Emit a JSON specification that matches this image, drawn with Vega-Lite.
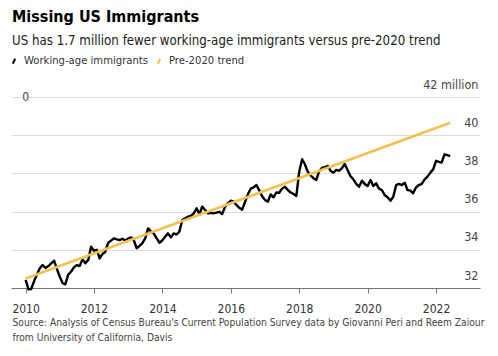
{
  "$schema": "https://vega.github.io/schema/vega-lite/v6.json",
  "width": 469,
  "height": 191,
  "autosize": {"type": "none"},
  "padding": {"left": 11, "top": 97, "right": 18, "bottom": 68},
  "background": "white",
  "config": {"view": {"stroke": null}, "font": "DejaVu Sans Condensed, Roboto"},
  "title": {
    "text": "Missing US Immigrants",
    "subtitle": "US has 1.7 million fewer working-age immigrants versus pre-2020 trend",
    "anchor": "start",
    "frame": "group",
    "font": "DejaVu Sans Condensed, Roboto",
    "fontSize": 16,
    "fontWeight": "bold",
    "color": "#000000",
    "subtitleFont": "DejaVu Sans Condensed, Roboto",
    "subtitleFontSize": 13.2,
    "subtitleColor": "#222222",
    "subtitlePadding": 10,
    "offset": 8,
    "dx": 1
  },
  "datasets": {
    "marker": [{"date": "2010-01", "value": 42}],
    "trend": [
      {"date": "2010-01", "value": 32.5, "series": "Pre-2020 trend"},
      {"date": "2022-06", "value": 40.65, "series": "Pre-2020 trend"}
    ],
    "immig": [
      {"date": "2010-01", "value": 32.42, "series": "Working-age immigrants"},
      {"date": "2010-02", "value": 31.93, "series": "Working-age immigrants"},
      {"date": "2010-03", "value": 31.95, "series": "Working-age immigrants"},
      {"date": "2010-04", "value": 32.35, "series": "Working-age immigrants"},
      {"date": "2010-05", "value": 32.7, "series": "Working-age immigrants"},
      {"date": "2010-06", "value": 33.03, "series": "Working-age immigrants"},
      {"date": "2010-07", "value": 33.2, "series": "Working-age immigrants"},
      {"date": "2010-08", "value": 33.05, "series": "Working-age immigrants"},
      {"date": "2010-09", "value": 33.15, "series": "Working-age immigrants"},
      {"date": "2010-10", "value": 33.29, "series": "Working-age immigrants"},
      {"date": "2010-11", "value": 33.43, "series": "Working-age immigrants"},
      {"date": "2010-12", "value": 33.0, "series": "Working-age immigrants"},
      {"date": "2011-01", "value": 32.59, "series": "Working-age immigrants"},
      {"date": "2011-02", "value": 32.25, "series": "Working-age immigrants"},
      {"date": "2011-03", "value": 32.19, "series": "Working-age immigrants"},
      {"date": "2011-04", "value": 32.7, "series": "Working-age immigrants"},
      {"date": "2011-05", "value": 32.85, "series": "Working-age immigrants"},
      {"date": "2011-06", "value": 33.08, "series": "Working-age immigrants"},
      {"date": "2011-07", "value": 33.2, "series": "Working-age immigrants"},
      {"date": "2011-08", "value": 33.15, "series": "Working-age immigrants"},
      {"date": "2011-09", "value": 33.5, "series": "Working-age immigrants"},
      {"date": "2011-10", "value": 33.3, "series": "Working-age immigrants"},
      {"date": "2011-11", "value": 33.47, "series": "Working-age immigrants"},
      {"date": "2011-12", "value": 34.16, "series": "Working-age immigrants"},
      {"date": "2012-01", "value": 33.95, "series": "Working-age immigrants"},
      {"date": "2012-02", "value": 34.0, "series": "Working-age immigrants"},
      {"date": "2012-03", "value": 33.55, "series": "Working-age immigrants"},
      {"date": "2012-04", "value": 33.78, "series": "Working-age immigrants"},
      {"date": "2012-05", "value": 33.9, "series": "Working-age immigrants"},
      {"date": "2012-06", "value": 34.37, "series": "Working-age immigrants"},
      {"date": "2012-07", "value": 34.48, "series": "Working-age immigrants"},
      {"date": "2012-08", "value": 34.6, "series": "Working-age immigrants"},
      {"date": "2012-09", "value": 34.55, "series": "Working-age immigrants"},
      {"date": "2012-10", "value": 34.51, "series": "Working-age immigrants"},
      {"date": "2012-11", "value": 34.58, "series": "Working-age immigrants"},
      {"date": "2012-12", "value": 34.48, "series": "Working-age immigrants"},
      {"date": "2013-01", "value": 34.6, "series": "Working-age immigrants"},
      {"date": "2013-02", "value": 34.65, "series": "Working-age immigrants"},
      {"date": "2013-03", "value": 34.5, "series": "Working-age immigrants"},
      {"date": "2013-04", "value": 34.08, "series": "Working-age immigrants"},
      {"date": "2013-05", "value": 34.2, "series": "Working-age immigrants"},
      {"date": "2013-06", "value": 34.35, "series": "Working-age immigrants"},
      {"date": "2013-07", "value": 34.6, "series": "Working-age immigrants"},
      {"date": "2013-08", "value": 35.12, "series": "Working-age immigrants"},
      {"date": "2013-09", "value": 34.95, "series": "Working-age immigrants"},
      {"date": "2013-10", "value": 34.85, "series": "Working-age immigrants"},
      {"date": "2013-11", "value": 34.6, "series": "Working-age immigrants"},
      {"date": "2013-12", "value": 34.37, "series": "Working-age immigrants"},
      {"date": "2014-01", "value": 34.5, "series": "Working-age immigrants"},
      {"date": "2014-02", "value": 34.69, "series": "Working-age immigrants"},
      {"date": "2014-03", "value": 34.86, "series": "Working-age immigrants"},
      {"date": "2014-04", "value": 34.65, "series": "Working-age immigrants"},
      {"date": "2014-05", "value": 34.86, "series": "Working-age immigrants"},
      {"date": "2014-06", "value": 34.8, "series": "Working-age immigrants"},
      {"date": "2014-07", "value": 34.95, "series": "Working-age immigrants"},
      {"date": "2014-08", "value": 35.56, "series": "Working-age immigrants"},
      {"date": "2014-09", "value": 35.65, "series": "Working-age immigrants"},
      {"date": "2014-10", "value": 35.73, "series": "Working-age immigrants"},
      {"date": "2014-11", "value": 35.77, "series": "Working-age immigrants"},
      {"date": "2014-12", "value": 35.91, "series": "Working-age immigrants"},
      {"date": "2015-01", "value": 36.17, "series": "Working-age immigrants"},
      {"date": "2015-02", "value": 35.87, "series": "Working-age immigrants"},
      {"date": "2015-03", "value": 36.26, "series": "Working-age immigrants"},
      {"date": "2015-04", "value": 36.08, "series": "Working-age immigrants"},
      {"date": "2015-05", "value": 35.91, "series": "Working-age immigrants"},
      {"date": "2015-06", "value": 35.94, "series": "Working-age immigrants"},
      {"date": "2015-07", "value": 35.91, "series": "Working-age immigrants"},
      {"date": "2015-08", "value": 35.95, "series": "Working-age immigrants"},
      {"date": "2015-09", "value": 35.99, "series": "Working-age immigrants"},
      {"date": "2015-10", "value": 35.87, "series": "Working-age immigrants"},
      {"date": "2015-11", "value": 36.26, "series": "Working-age immigrants"},
      {"date": "2015-12", "value": 36.43, "series": "Working-age immigrants"},
      {"date": "2016-01", "value": 36.57, "series": "Working-age immigrants"},
      {"date": "2016-02", "value": 36.52, "series": "Working-age immigrants"},
      {"date": "2016-03", "value": 36.35, "series": "Working-age immigrants"},
      {"date": "2016-04", "value": 36.2, "series": "Working-age immigrants"},
      {"date": "2016-05", "value": 36.1, "series": "Working-age immigrants"},
      {"date": "2016-06", "value": 36.5, "series": "Working-age immigrants"},
      {"date": "2016-07", "value": 36.9, "series": "Working-age immigrants"},
      {"date": "2016-08", "value": 37.2, "series": "Working-age immigrants"},
      {"date": "2016-09", "value": 37.27, "series": "Working-age immigrants"},
      {"date": "2016-10", "value": 37.39, "series": "Working-age immigrants"},
      {"date": "2016-11", "value": 37.1, "series": "Working-age immigrants"},
      {"date": "2016-12", "value": 36.8, "series": "Working-age immigrants"},
      {"date": "2017-01", "value": 36.6, "series": "Working-age immigrants"},
      {"date": "2017-02", "value": 36.52, "series": "Working-age immigrants"},
      {"date": "2017-03", "value": 36.9, "series": "Working-age immigrants"},
      {"date": "2017-04", "value": 36.75, "series": "Working-age immigrants"},
      {"date": "2017-05", "value": 37.0, "series": "Working-age immigrants"},
      {"date": "2017-06", "value": 36.99, "series": "Working-age immigrants"},
      {"date": "2017-07", "value": 37.2, "series": "Working-age immigrants"},
      {"date": "2017-08", "value": 37.3, "series": "Working-age immigrants"},
      {"date": "2017-09", "value": 37.13, "series": "Working-age immigrants"},
      {"date": "2017-10", "value": 37.0, "series": "Working-age immigrants"},
      {"date": "2017-11", "value": 36.92, "series": "Working-age immigrants"},
      {"date": "2017-12", "value": 36.82, "series": "Working-age immigrants"},
      {"date": "2018-01", "value": 38.1, "series": "Working-age immigrants"},
      {"date": "2018-02", "value": 38.74, "series": "Working-age immigrants"},
      {"date": "2018-03", "value": 38.49, "series": "Working-age immigrants"},
      {"date": "2018-04", "value": 38.09, "series": "Working-age immigrants"},
      {"date": "2018-05", "value": 37.9, "series": "Working-age immigrants"},
      {"date": "2018-06", "value": 37.75, "series": "Working-age immigrants"},
      {"date": "2018-07", "value": 37.65, "series": "Working-age immigrants"},
      {"date": "2018-08", "value": 38.1, "series": "Working-age immigrants"},
      {"date": "2018-09", "value": 38.3, "series": "Working-age immigrants"},
      {"date": "2018-10", "value": 38.32, "series": "Working-age immigrants"},
      {"date": "2018-11", "value": 38.39, "series": "Working-age immigrants"},
      {"date": "2018-12", "value": 38.14, "series": "Working-age immigrants"},
      {"date": "2019-01", "value": 38.04, "series": "Working-age immigrants"},
      {"date": "2019-02", "value": 38.18, "series": "Working-age immigrants"},
      {"date": "2019-03", "value": 38.14, "series": "Working-age immigrants"},
      {"date": "2019-04", "value": 38.27, "series": "Working-age immigrants"},
      {"date": "2019-05", "value": 38.49, "series": "Working-age immigrants"},
      {"date": "2019-06", "value": 38.18, "series": "Working-age immigrants"},
      {"date": "2019-07", "value": 37.86, "series": "Working-age immigrants"},
      {"date": "2019-08", "value": 37.69, "series": "Working-age immigrants"},
      {"date": "2019-09", "value": 37.45, "series": "Working-age immigrants"},
      {"date": "2019-10", "value": 37.3, "series": "Working-age immigrants"},
      {"date": "2019-11", "value": 37.62, "series": "Working-age immigrants"},
      {"date": "2019-12", "value": 37.45, "series": "Working-age immigrants"},
      {"date": "2020-01", "value": 37.34, "series": "Working-age immigrants"},
      {"date": "2020-02", "value": 37.65, "series": "Working-age immigrants"},
      {"date": "2020-03", "value": 37.34, "series": "Working-age immigrants"},
      {"date": "2020-04", "value": 37.48, "series": "Working-age immigrants"},
      {"date": "2020-05", "value": 37.2, "series": "Working-age immigrants"},
      {"date": "2020-06", "value": 37.13, "series": "Working-age immigrants"},
      {"date": "2020-07", "value": 36.87, "series": "Working-age immigrants"},
      {"date": "2020-08", "value": 36.75, "series": "Working-age immigrants"},
      {"date": "2020-09", "value": 36.57, "series": "Working-age immigrants"},
      {"date": "2020-10", "value": 36.78, "series": "Working-age immigrants"},
      {"date": "2020-11", "value": 37.39, "series": "Working-age immigrants"},
      {"date": "2020-12", "value": 37.45, "series": "Working-age immigrants"},
      {"date": "2021-01", "value": 37.39, "series": "Working-age immigrants"},
      {"date": "2021-02", "value": 37.51, "series": "Working-age immigrants"},
      {"date": "2021-03", "value": 37.13, "series": "Working-age immigrants"},
      {"date": "2021-04", "value": 37.1, "series": "Working-age immigrants"},
      {"date": "2021-05", "value": 36.96, "series": "Working-age immigrants"},
      {"date": "2021-06", "value": 37.27, "series": "Working-age immigrants"},
      {"date": "2021-07", "value": 37.39, "series": "Working-age immigrants"},
      {"date": "2021-08", "value": 37.45, "series": "Working-age immigrants"},
      {"date": "2021-09", "value": 37.69, "series": "Working-age immigrants"},
      {"date": "2021-10", "value": 37.83, "series": "Working-age immigrants"},
      {"date": "2021-11", "value": 38.04, "series": "Working-age immigrants"},
      {"date": "2021-12", "value": 38.21, "series": "Working-age immigrants"},
      {"date": "2022-01", "value": 38.66, "series": "Working-age immigrants"},
      {"date": "2022-02", "value": 38.6, "series": "Working-age immigrants"},
      {"date": "2022-03", "value": 38.56, "series": "Working-age immigrants"},
      {"date": "2022-04", "value": 39.0, "series": "Working-age immigrants"},
      {"date": "2022-05", "value": 38.96, "series": "Working-age immigrants"},
      {"date": "2022-06", "value": 38.91, "series": "Working-age immigrants"}
    ]
  },
  "encoding": {
    "x": {
      "field": "date",
      "type": "temporal",
      "scale": {
        "type": "utc",
        "domain": [
          {"year": 2009, "month": 7, "date": 29, "utc": true},
          {"year": 2023, "month": 4, "date": 15, "utc": true}
        ]
      },
      "axis": {
        "values": [
          {"year": 2010, "utc": true},
          {"year": 2012, "utc": true},
          {"year": 2014, "utc": true},
          {"year": 2016, "utc": true},
          {"year": 2018, "utc": true},
          {"year": 2020, "utc": true},
          {"year": 2022, "utc": true}
        ],
        "format": "%Y",
        "grid": false,
        "domainColor": "#777777",
        "domainWidth": 1,
        "tickColor": "#777777",
        "tickSize": 5,
        "labelFontSize": 12,
        "labelColor": "#333333",
        "labelPadding": 10,
        "labelFlush": false,
        "labelFont": "DejaVu Sans Condensed, Roboto",
        "title": [
          "Source: Analysis of Census Bureau's Current Population Survey data by Giovanni Peri and Reem Zaiour",
          "from University of California, Davis"
        ],
        "titleAnchor": "start",
        "titleAlign": "left",
        "titleBaseline": "top",
        "titleX": 1,
        "titleY": 29,
        "titleFont": "DejaVu Sans Condensed, Roboto",
        "titleFontSize": 10.2,
        "titleFontWeight": "normal",
        "titleColor": "#444444",
        "titleLineHeight": 15
      }
    },
    "y": {
      "field": "value",
      "type": "quantitative",
      "scale": {"domain": [32, 42], "nice": false, "zero": false},
      "axis": {
        "orient": "right",
        "values": [32, 34, 36, 38, 40, 42],
        "grid": true,
        "gridColor": "#dddddd",
        "gridWidth": 1,
        "domain": false,
        "ticks": false,
        "labelAlign": "right",
        "labelBaseline": "middle",
        "labelPadding": -2,
        "labelOffset": -13,
        "labelFontSize": 12.5,
        "labelColor": "#444444",
        "labelFont": "DejaVu Sans Condensed, Roboto",
        "labelFlush": false,
        "labelOverlap": false,
        "labelExpr": "datum.value == 42 ? '42 million' : datum.label",
        "title": null
      }
    }
  },
  "layer": [
    {
      "data": {"name": "marker"},
      "mark": {"type": "point", "shape": "circle", "filled": true, "fill": "white", "opacity": 1, "size": 70}
    },
    {
      "data": {"name": "marker"},
      "mark": {"type": "text", "text": "0", "fontSize": 12, "color": "#444444", "font": "DejaVu Sans Condensed, Roboto"}
    },
    {
      "data": {"name": "immig"},
      "mark": {"type": "line", "strokeWidth": 2.4, "strokeJoin": "round"},
      "encoding": {
        "color": {
          "field": "series",
          "type": "nominal",
          "scale": {
            "domain": ["Working-age immigrants", "Pre-2020 trend"],
            "range": ["#000000", "#f2c14e"]
          },
          "legend": {
            "orient": "none",
            "legendX": -3,
            "legendY": -42,
            "direction": "horizontal",
            "title": null,
            "symbolType": "M-0.23,0.5L0.23,-0.5",
            "symbolSize": 100,
            "symbolStrokeWidth": 2,
            "labelFontSize": 11.2,
            "labelColor": "#333333",
            "labelFont": "DejaVu Sans Condensed, Roboto",
            "labelOffset": 4,
            "columnPadding": 4
          }
        }
      }
    },
    {
      "data": {"name": "trend"},
      "mark": {"type": "line", "strokeWidth": 2.6},
      "encoding": {
        "color": {"field": "series", "type": "nominal"}
      }
    }
  ]
}
